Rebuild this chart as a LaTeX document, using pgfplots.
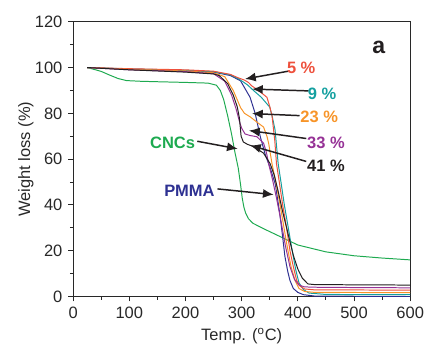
\documentclass[border=0pt]{standalone}
\usepackage{pgfplots}
\pgfplotsset{compat=1.18}
\usepackage{fontspec}
\setmainfont{Liberation Sans}
\usetikzlibrary{arrows.meta,calc}
\definecolor{cred}{RGB}{238,80,60}
\definecolor{cteal}{RGB}{20,160,160}
\definecolor{corange}{RGB}{247,148,40}
\definecolor{cpurple}{RGB}{150,50,150}
\definecolor{cblack}{RGB}{35,31,32}
\definecolor{cgreen}{RGB}{30,170,80}
\definecolor{cnavy}{RGB}{46,49,146}
\definecolor{axgray}{RGB}{40,40,40}
\begin{document}
\begin{tikzpicture}[font=\fontsize{10}{12}\selectfont]
\begin{axis}[
  width=204.6pt, height=166.8pt, scale only axis,
  xmin=0, xmax=600, ymin=0, ymax=120,
  xtick={0,100,...,600}, ytick={0,20,...,120},
  minor xtick={50,150,...,550}, minor ytick={10,30,...,110},
  tick align=outside, tick pos=left,
  major tick length=3pt, minor tick length=2pt,
  axis line style={axgray, line width=0.6pt},
  every tick/.style={axgray, line width=0.6pt},
  /pgf/number format/assume math mode=true,
  ticklabel style={text=axgray, font=\fontsize{10}{12}\selectfont},
  xlabel={Temp. (\textsuperscript{o}C)},
  ylabel={Weight loss (\%)},
  label style={text=axgray, font=\fontsize{10}{12}\selectfont},
  xlabel style={yshift=1pt},
  ylabel style={yshift=-6pt},
  every axis plot/.append style={line width=0.6pt},
]
% CNCs
\addplot[cgreen] coordinates {(25,100) (40,99) (50,98.3) (65,96.7) (80,95.2) (95,94.3) (120,94.0) (150,93.8) (200,93.5) (240,93.2) (255,92.3) (262,90) (268,86) (275,79) (282,71) (288,63) (294,56) (298,49) (301,43) (304,39) (307,36.5) (312,34) (320,32) (340,29.5) (370,26) (400,22.5) (450,19.5) (500,17.8) (550,16.8) (600,16)};
% PMMA
\addplot[cnavy] coordinates {(25,100) (100,99.3) (200,98.6) (250,98) (280,96.5) (298,94.2) (315,87) (324,80) (333,70) (342,62) (351,56) (360,49) (368,36) (373,26) (377,17.5) (382,11) (386,7) (392,3.5) (400,1.8) (410,0.8) (430,0.2) (600,0)};
% 9 %
\addplot[cteal] coordinates {(25,100) (100,99.4) (200,98.8) (250,98.2) (280,96.8) (295,95) (310,92.5) (321,90) (335,87) (350,82.7) (355,78) (359.5,72.7) (365,58) (370,50) (376,40) (383,30) (390,20) (396,12) (402,6) (410,3) (420,1.5) (450,0.9) (600,0.8)};
% 5 %
\addplot[cred] coordinates {(25,100) (100,99.5) (200,99) (250,98.4) (280,97) (292,95.7) (305,94.5) (312,93.5) (318,92) (330,90) (345,87) (350,83) (354,79) (359,68) (362,58) (367,50) (373,40) (380,30) (386,20) (392,13) (398,7) (404,4.5) (412,3.3) (430,2.9) (600,2.8)};
% 23 %
\addplot[corange] coordinates {(25,100) (100,99.2) (200,98.5) (250,97.7) (270,96) (285,90) (292,86) (298,82.5) (305,80) (315.5,78.4) (328,76) (339,74) (345,70) (348,67) (354,58) (360,51) (367,42) (374,32) (381,22) (388,13) (395,7) (402,3.5) (412,2.2) (430,1.8) (600,1.7)};
% 33 %
\addplot[cpurple] coordinates {(25,100) (100,99) (200,98.2) (250,97.3) (270,94) (282,88) (290,82) (296,76.5) (300,73.5) (306,71) (315,70.3) (327,69.8) (339,67) (344,63) (348,58) (355,51) (362,43) (370,33) (378,22) (386,13) (394,7.5) (402,5) (412,4.2) (440,4) (600,3.8)};
% 41 %
\addplot[cblack] coordinates {(25,100) (100,99) (200,98) (250,97.2) (260,96.5) (275,93) (285,88) (292,83) (296,78) (299,70) (303,67.5) (310,66.5) (321,65.5) (339,62.6) (350.7,58) (358,53) (365,46) (373,37) (383,27) (392,18) (400,12) (408,8) (418,5.5) (430,5.2) (600,5)};
% annotations
\tikzset{ann/.style={-{Latex[length=6.5pt,width=5.5pt]}, cblack, line width=0.9pt}}
\draw[ann] (axis cs:383,98.4) -- (axis cs:306,95);
\draw[ann] (axis cs:419,89.8) -- (axis cs:318.5,90.6);
\draw[ann] (axis cs:403,79) -- (axis cs:318.5,79.9);
\draw[ann] (axis cs:415,69) -- (axis cs:313,72.5);
\draw[ann] (axis cs:415,59) -- (axis cs:315,66);
\draw[ann] (axis cs:221,67.8) -- (axis cs:293,64.5);
\draw[ann] (axis cs:257,47) -- (axis cs:357,44.5);
\node[text=cred, font=\fontsize{10}{12}\selectfont\bfseries] at (axis cs:406,99.7) {5 \%};
\node[text=cteal, font=\fontsize{10}{12}\selectfont\bfseries] at (axis cs:443,88.5) {9 \%};
\node[text=corange, font=\fontsize{10}{12}\selectfont\bfseries] at (axis cs:438,78.6) {23 \%};
\node[text=cpurple, font=\fontsize{10}{12}\selectfont\bfseries] at (axis cs:450,67.3) {33 \%};
\node[text=cblack, font=\fontsize{10}{12}\selectfont\bfseries] at (axis cs:450,57) {41 \%};
\node[text=cgreen, font=\fontsize{10}{12}\selectfont\bfseries] at (axis cs:177,66.9) {CNCs};
\node[text=cnavy, font=\fontsize{10}{12}\selectfont\bfseries] at (axis cs:207,46.2) {PMMA};
\node[text=cblack, font=\fontsize{14}{16}\selectfont\bfseries] at (axis cs:544,108.8) {a};
\end{axis}
\pgfresetboundingbox
\path[use as bounding box] ($(current axis.south west)+(-44.4pt,-31.2pt)$) rectangle ($(current axis.north east)+(9pt,13.2pt)$);
\end{tikzpicture}
\end{document}
